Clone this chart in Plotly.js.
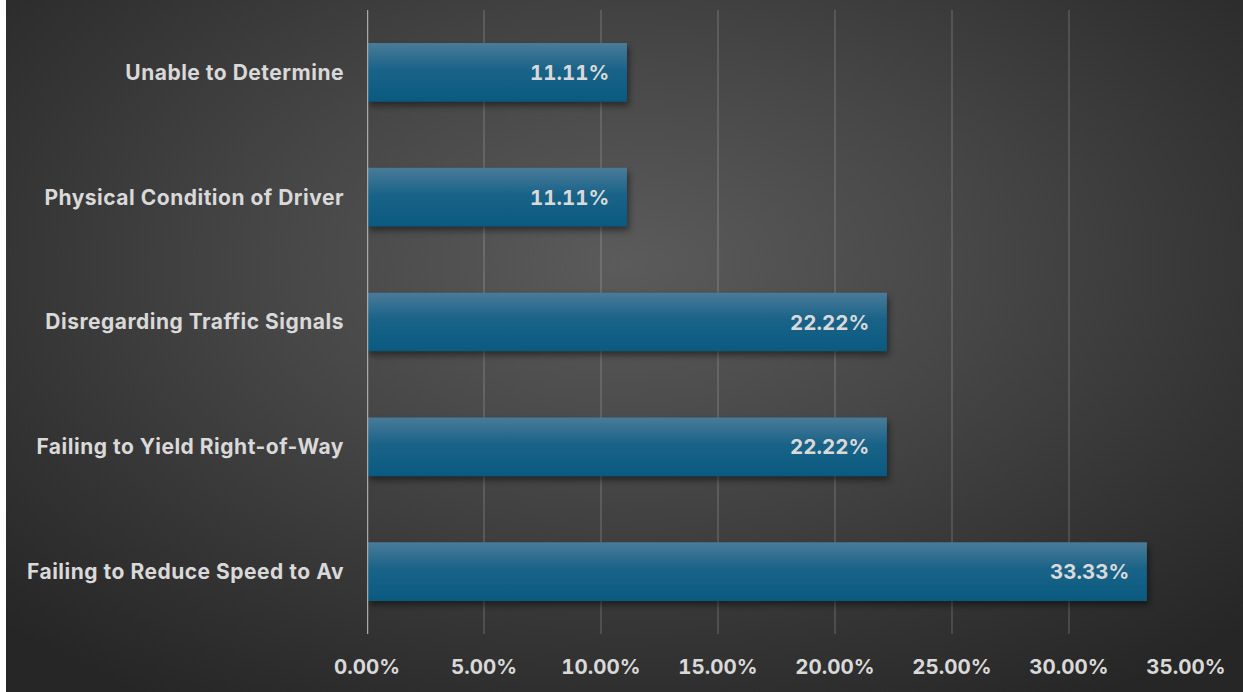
<!DOCTYPE html>
<html>
<head>
<meta charset="utf-8">
<script src="https://cdn.plot.ly/plotly-3.0.1.min.js"></script>
<style>
  html, body { margin: 0; padding: 0; background: #ffffff; width: 1243px; height: 692px; overflow: hidden; }
  #wrap { position: absolute; left: 6px; top: 0; width: 1237px; height: 692px;
    background: radial-gradient(ellipse 70% 75% at 50% 38%, #5b5b5b 0%, #474747 40%, #333333 75%, #262626 100%); }
  #chart { width: 1237px; height: 692px; }
  .barshadow { filter: drop-shadow(2px 4px 3px rgba(0,0,0,0.45)); }
  .ytick text { letter-spacing: 0.5px; }
  .annotation-text, .xtick text { font-feature-settings: "tnum" 1; font-variant-numeric: tabular-nums; }
</style>
</head>
<body>
<div id="wrap"><div id="chart"></div></div>
<script>
const categories = [
  "Failing to Reduce Speed to Av",
  "Failing to Yield Right-of-Way",
  "Disregarding Traffic Signals",
  "Physical Condition of Driver",
  "Unable to Determine"
];
const values = [0.3333, 0.2222, 0.2222, 0.1111, 0.1111];
const valueLabels = ["33.33%", "22.22%", "22.22%", "11.11%", "11.11%"];
const xTicks = [0, 0.05, 0.10, 0.15, 0.20, 0.25, 0.30, 0.35];
const xTickLabels = ["0.00%", "5.00%", "10.00%", "15.00%", "20.00%", "25.00%", "30.00%", "35.00%"];

const FONT = "Inter, 'Open Sans', 'DejaVu Sans', sans-serif";
const TXT = "#d9d9d9";

const trace = {
  type: "bar",
  orientation: "h",
  x: values,
  y: categories,
  marker: { color: "#155f85", line: { width: 0 } },
  hoverinfo: "none"
};

const annotations = values.map((v, i) => ({
  x: v, y: categories[i], xref: "x", yref: "y",
  text: "<b>" + valueLabels[i] + "</b>",
  showarrow: false, xanchor: "right", xshift: -16,
  font: { family: FONT, size: 20.5, color: TXT }
}));

const layout = {
  width: 1237, height: 692,
  margin: { l: 361, r: 57, t: 10, b: 58, pad: 0 },
  paper_bgcolor: "rgba(0,0,0,0)",
  plot_bgcolor: "rgba(0,0,0,0)",
  showlegend: false,
  bargap: 0.53,
  xaxis: {
    range: [0, 0.35],
    tickvals: xTicks, ticktext: xTickLabels,
    showgrid: true, gridcolor: "rgba(255,255,255,0.13)", gridwidth: 1.5,
    zeroline: false, showline: false, ticks: "",
    tickfont: { family: FONT, size: 20.5, color: TXT, weight: "bold" },
    ticklabelstandoff: 18,
    fixedrange: true
  },
  yaxis: {
    type: "category",
    categoryorder: "array", categoryarray: categories,
    showgrid: false, zeroline: false,
    showline: false, ticks: "",
    tickfont: { family: FONT, size: 21, color: TXT, weight: "bold" },
    ticklabelstandoff: 22,
    fixedrange: true
  },
  shapes: [{
    type: "line", xref: "x", yref: "paper", x0: 0, x1: 0, y0: 0, y1: 1,
    line: { color: "#a9a9a9", width: 2.5 }, layer: "above"
  }],
  annotations: annotations
};

Plotly.newPlot("chart", [trace], layout, { displayModeBar: false, staticPlot: true }).then(gd => {
  const svg = gd.querySelector("svg.main-svg");
  const ns = "http://www.w3.org/2000/svg";
  let defs = svg.querySelector("defs");
  if (!defs) { defs = document.createElementNS(ns, "defs"); svg.insertBefore(defs, svg.firstChild); }
  const lg = document.createElementNS(ns, "linearGradient");
  lg.setAttribute("id", "barGrad");
  lg.setAttribute("x1", "0"); lg.setAttribute("y1", "0");
  lg.setAttribute("x2", "0"); lg.setAttribute("y2", "1");
  [["0", "#4a7b99"], ["0.45", "#1a6388"], ["1", "#0a5a80"]].forEach(([o, c]) => {
    const s = document.createElementNS(ns, "stop");
    s.setAttribute("offset", o); s.setAttribute("stop-color", c);
    lg.appendChild(s);
  });
  defs.appendChild(lg);
  gd.querySelectorAll(".bars .point path").forEach(p => {
    p.style.fill = "url(#barGrad)";
    p.classList.add("barshadow");
  });
});
</script>
</body>
</html>
